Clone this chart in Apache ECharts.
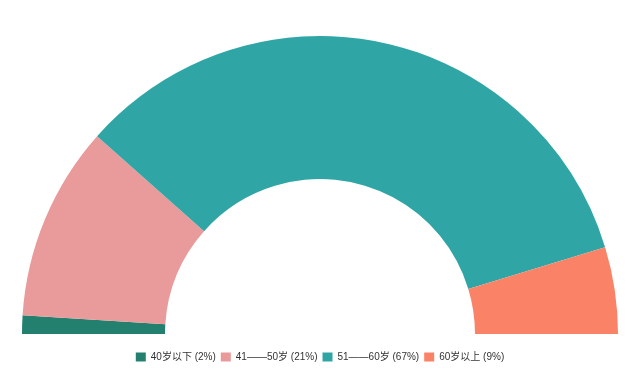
<!DOCTYPE html>
<html>
<head>
<meta charset="utf-8">
<script src="https://cdn.jsdelivr.net/npm/echarts@6/dist/echarts.min.js"></script>
<style>html,body{margin:0;padding:0;background:#fff;}#c{width:640px;height:370px;}</style>
</head>
<body>
<div id="c"></div>
<script>
const categories = ['40岁以下 (2%)', '41——50岁 (21%)', '51——60岁 (67%)', '60岁以上 (9%)'];
const values = [2.0, 21.1, 67.5, 9.4];
const colors = ['#23806f', '#e99a9a', '#30a5a5', '#fa8266'];

const chart = echarts.init(document.getElementById('c'), null, {renderer: 'canvas'});
chart.setOption({
  animation: false,
  color: colors,
  legend: {
    top: 347,
    left: 'center',
    itemWidth: 10,
    itemHeight: 9,
    itemGap: 5,
    icon: 'rect',
    textStyle: {fontSize: 10, color: '#333', fontFamily: 'Arial, "Liberation Sans", "Noto Sans CJK SC", sans-serif'},
    data: categories
  },
  series: [{
    type: 'pie',
    center: [320, 334],
    radius: [155, 298],
    startAngle: 180,
    endAngle: 0,
    clockwise: true,
    label: {show: false},
    labelLine: {show: false},
    emphasis: {disabled: true},
    data: categories.map((n, i) => ({name: n, value: values[i]}))
  }]
});
</script>
</body>
</html>
